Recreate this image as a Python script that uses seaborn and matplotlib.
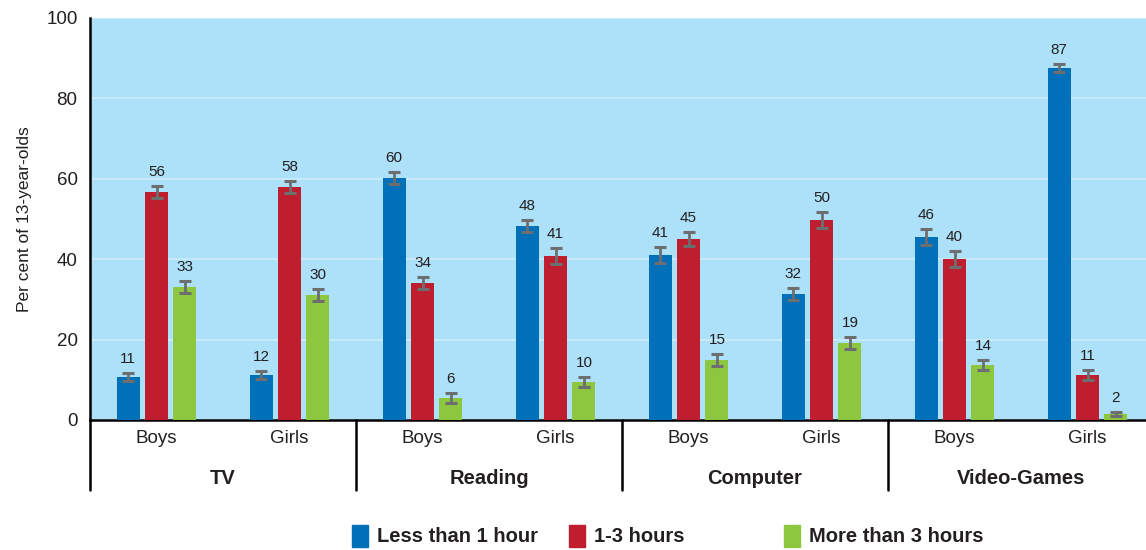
import matplotlib.pyplot as plt
from matplotlib.patches import Rectangle
import pandas as pd
import seaborn as sns

# data
activities = ["TV", "Reading", "Computer", "Video-Games"]
genders = ["Boys", "Girls"]
durations = ["Less than 1 hour", "1-3 hours", "More than 3 hours"]

# values per (activity, gender), ordered as durations
less_than_1 = [10.7, 11.2, 60.3, 48.3, 41.0, 31.3, 45.6, 87.6]
one_to_3 = [56.6, 58.0, 34.0, 40.8, 45.0, 49.7, 40.0, 11.2]
more_than_3 = [33.1, 31.0, 5.5, 9.5, 14.9, 19.2, 13.7, 1.5]

err_less_than_1 = [1.0, 1.0, 1.5, 1.5, 2.0, 1.5, 2.0, 1.0]
err_one_to_3 = [1.5, 1.5, 1.5, 2.0, 1.7, 2.0, 2.0, 1.2]
err_more_than_3 = [1.5, 1.5, 1.2, 1.2, 1.5, 1.5, 1.2, 0.6]

lbl_less_than_1 = [11, 12, 60, 48, 41, 32, 46, 87]
lbl_one_to_3 = [56, 58, 34, 41, 45, 50, 40, 11]
lbl_more_than_3 = [33, 30, 6, 10, 15, 19, 14, 2]

COLORS = ["#0070B8", "#BE1E2D", "#8DC63F"]
BG = "#ADE1FA"


def build_frame() -> pd.DataFrame:
    groups = [f"{a}|{g}" for a in activities for g in genders]
    rows = []
    for dur, vals in zip(durations, [less_than_1, one_to_3, more_than_3]):
        for grp, v in zip(groups, vals):
            rows.append({"group": grp, "duration": dur, "value": v})
    return pd.DataFrame(rows), groups


df, groups = build_frame()

sns.set_style("white")
plt.rcParams["font.family"] = ["Liberation Sans", "DejaVu Sans"]

fig = plt.figure(figsize=(11.46, 5.5), dpi=100)
ax = fig.add_axes([90 / 1146, 130 / 550, 1 - 90 / 1146, 402 / 550])
ax.set_facecolor(BG)

sns.barplot(
    df, x="group", y="value", hue="duration", order=groups,
    hue_order=durations, palette=COLORS, width=0.642, gap=0.19,
    saturation=1, errorbar=None, legend=False, ax=ax, zorder=3,
    linewidth=0,
)

errs = [err_less_than_1, err_one_to_3, err_more_than_3]
labels = [lbl_less_than_1, lbl_one_to_3, lbl_more_than_3]
for cont, e_list, l_list in zip(ax.containers, errs, labels):
    xs = [p.get_x() + p.get_width() / 2 for p in cont.patches]
    ys = [p.get_height() for p in cont.patches]
    ax.errorbar(xs, ys, yerr=e_list, fmt="none", ecolor="#6D6E70",
                elinewidth=2, capsize=4.5, capthick=2.2, zorder=4)
    for x, y, e, lab in zip(xs, ys, e_list, l_list):
        ax.annotate(str(lab), (x, y + e), xytext=(0, 5), textcoords="offset points",
                    ha="center", va="bottom", fontsize=11, color="#231F20")

ax.set_ylim(0, 100)
ax.set_xlim(-0.5, -0.5 + (1146 - 90) / 133)
ax.set_yticks(range(0, 101, 20))
ax.yaxis.grid(True, color="#CDEDFC", linewidth=1.2)
ax.set_axisbelow(True)
ax.set_xticks(range(len(groups)))
ax.set_xticklabels([g.split("|")[1] for g in groups])
ax.tick_params(axis="both", length=0, labelsize=13.5, colors="#231F20")
ax.tick_params(axis="x", pad=7)
ax.tick_params(axis="y", pad=9)
ax.set_xlabel("")
ax.set_ylabel("Per cent of 13-year-olds", fontsize=12.5, color="#231F20", labelpad=10)

for side in ["top", "right"]:
    ax.spines[side].set_visible(False)
ax.spines["left"].set_linewidth(1.8)
ax.spines["bottom"].set_linewidth(1.8)
ax.spines["left"].set_color("black")
ax.spines["bottom"].set_color("black")

# category separators and labels below the axis
low = -70 / 402
trans = ax.get_xaxis_transform()
for i, act in enumerate(activities):
    x0 = -0.5 + 2 * i
    ax.plot([x0, x0], [0, low], transform=trans, color="black",
            linewidth=1.8, clip_on=False)
    ax.text(x0 + 1, -58 / 402, act, transform=trans, ha="center", va="center",
            fontsize=14.5, fontweight="bold", color="#231F20")

# legend
leg_x = [352, 569, 784]
for x, col, name in zip(leg_x, COLORS, durations):
    fig.patches.append(Rectangle((x / 1146, 3 / 550), 16 / 1146, 22 / 550,
                                 transform=fig.transFigure, color=col))
    fig.text((x + 25) / 1146, 14 / 550, name, ha="left", va="center",
             fontsize=14.5, fontweight="bold", color="#231F20",
             family=["Liberation Sans Narrow", "Liberation Sans", "DejaVu Sans"])

fig.savefig("out.png", dpi=100)
